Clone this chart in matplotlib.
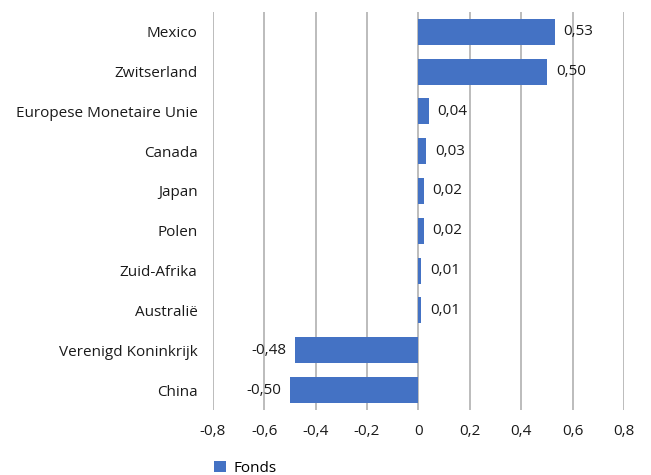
import matplotlib
matplotlib.use("Agg")
import matplotlib.pyplot as plt

categories = ["Mexico", "Zwitserland", "Europese Monetaire Unie", "Canada", "Japan",
              "Polen", "Zuid-Afrika", "Australië", "Verenigd Koninkrijk", "China"]
values = [0.53, 0.50, 0.04, 0.03, 0.02, 0.02, 0.01, 0.01, -0.48, -0.50]
xticks = [-0.8, -0.6, -0.4, -0.2, 0, 0.2, 0.4, 0.6, 0.8]
xtick_labels = ["-0,8", "-0,6", "-0,4", "-0,2", "0", "0,2", "0,4", "0,6", "0,8"]
series_name = "Fonds"

plt.rcParams['font.family'] = ['Open Sans', 'DejaVu Sans']
color = "#4472C4"
tcol = "#1a1a1a"
fs = 11

fig = plt.figure(figsize=(6.51, 4.75), dpi=100)
ax = fig.add_axes([0.327, 0.137, 0.6315, 0.838])

y = list(range(len(categories)))
bars = ax.barh(y, values, height=0.65, color=color, label=series_name, zorder=3)
ax.set_ylim(len(categories) - 0.5, -0.5)
ax.set_xlim(-0.8, 0.8)
ax.set_yticks(y)
ax.set_yticklabels(categories, fontsize=fs, color=tcol)
ax.set_xticks(xticks)
ax.set_xticklabels(xtick_labels, fontsize=fs, color=tcol)
ax.tick_params(axis='y', length=0, pad=11)
ax.tick_params(axis='x', length=0, pad=10)
ax.grid(axis='x', color="#b0b0b0", linewidth=1.2, zorder=0)
for s in ax.spines.values():
    s.set_visible(False)

for yi, v in zip(y, values):
    lbl = f"{v:.2f}".replace(".", ",")
    if v >= 0:
        ax.text(v + 0.035, yi, lbl, va='center', ha='left', fontsize=fs, color=tcol)
    else:
        ax.text(v - 0.035, yi, lbl, va='center', ha='right', fontsize=fs, color=tcol)

leg = fig.legend(handles=[bars], labels=[series_name], loc='lower left',
                 bbox_to_anchor=(0.308, -0.03), frameon=False, fontsize=fs,
                 handlelength=0.75, handleheight=0.75, handletextpad=0.5)

fig.savefig("out.png", dpi=100)
